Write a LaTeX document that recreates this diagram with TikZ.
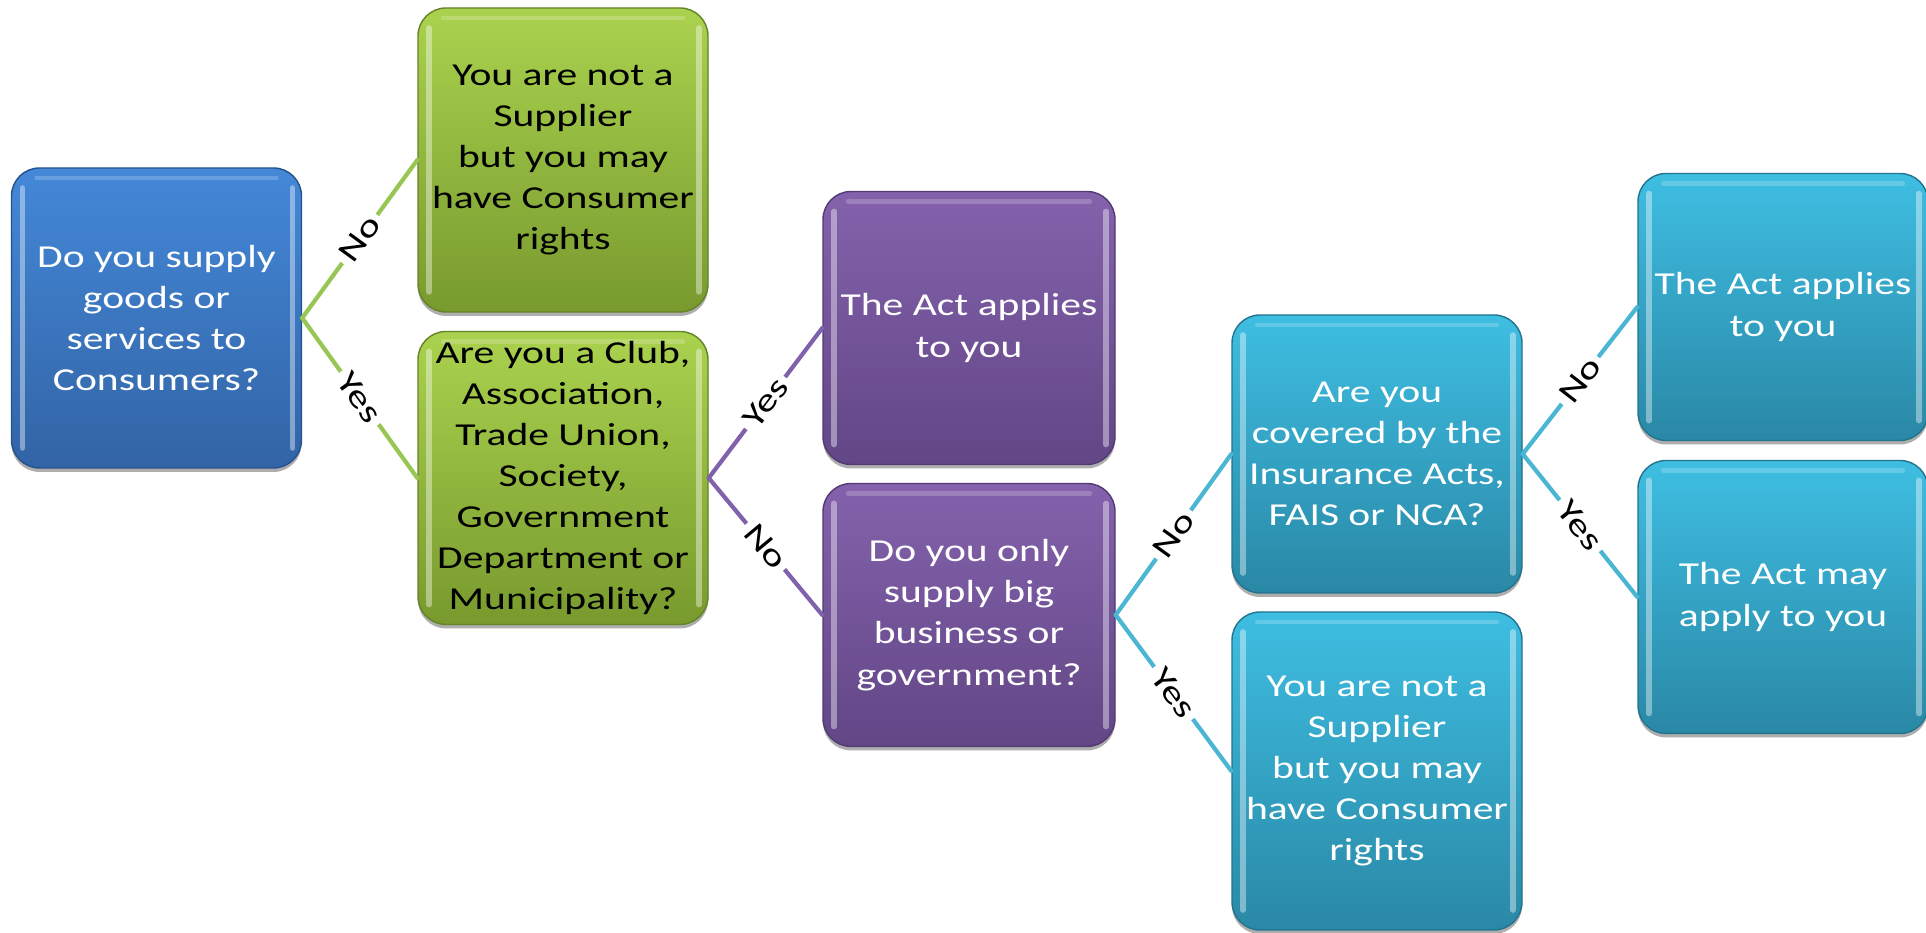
\documentclass[tikz,border=0pt]{standalone}
\usepackage{fontspec}
\setmainfont[FakeStretch=1.3]{Carlito}
\usetikzlibrary{shadows}
\definecolor{bluetop}{RGB}{68,136,216}
\definecolor{bluebot}{RGB}{50,100,166}
\definecolor{blueedge}{RGB}{38,82,140}
\definecolor{greentop}{RGB}{170,210,78}
\definecolor{greenbot}{RGB}{120,154,46}
\definecolor{greenedge}{RGB}{100,130,38}
\definecolor{greenline}{RGB}{152,198,84}
\definecolor{purptop}{RGB}{132,98,172}
\definecolor{purpbot}{RGB}{98,70,134}
\definecolor{purpedge}{RGB}{82,58,116}
\definecolor{purpline}{RGB}{128,98,172}
\definecolor{cyantop}{RGB}{62,190,226}
\definecolor{cyanbot}{RGB}{42,136,166}
\definecolor{cyanedge}{RGB}{34,116,142}
\definecolor{cyanline}{RGB}{74,182,212}
\begin{document}
\begin{tikzpicture}[font=\fontsize{9.1}{11.7}\selectfont, line join=round, line cap=round,
	box/.style={rounded corners=0.28cm, minimum width=2.9cm, align=center, inner sep=0pt,
		drop shadow={shadow xshift=0cm, shadow yshift=-0.04cm, opacity=0.45, fill=black!70},
		path picture={
			\draw[white, opacity=0.4, line width=1.6pt]
			([xshift=0.11cm,yshift=-0.2cm]path picture bounding box.north west) -- ([xshift=0.11cm,yshift=0.2cm]path picture bounding box.south west)
			([xshift=-0.09cm,yshift=-0.2cm]path picture bounding box.north east) -- ([xshift=-0.09cm,yshift=0.2cm]path picture bounding box.south east);
			\draw[white, opacity=0.2, line width=1.2pt]
			([xshift=0.25cm,yshift=-0.1cm]path picture bounding box.north west) -- ([xshift=-0.25cm,yshift=-0.1cm]path picture bounding box.north east);
		}},
	bluebox/.style={box, top color=bluetop, bottom color=bluebot, draw=blueedge, text=white},
	greenbox/.style={box, top color=greentop, bottom color=greenbot, draw=greenedge, text=black},
	purpbox/.style={box, top color=purptop, bottom color=purpbot, draw=purpedge, text=white},
	cyanbox/.style={box, top color=cyantop, bottom color=cyanbot, draw=cyanedge, text=white},
	link/.style={line width=1.2pt},
	yn/.style={midway, sloped, fill=white, inner xsep=1.5pt, inner ysep=0.5pt, text=black}]
	\useasboundingbox (0,0) rectangle (19.26,9.33);
	% cot 1
	\node[bluebox, minimum height=3cm] (supply) at (1.565,6.15) {Do you supply\\goods or\\services to\\Consumers?};
	% cot 2
	\node[greenbox, minimum height=3.04cm] (notsupA) at (5.63,7.73) {You are not a\\Supplier\\but you may\\have Consumer\\rights};
	\node[greenbox, minimum height=2.93cm] (club) at (5.63,4.55) {Are you a Club,\\Association,\\Trade Union,\\Society,\\Government\\Department or\\Municipality?};
	% cot 3
	\node[purpbox, minimum width=2.92cm, minimum height=2.73cm] (actA) at (9.69,6.05) {The Act applies\\to you};
	\node[purpbox, minimum width=2.92cm, minimum height=2.63cm] (bigbiz) at (9.69,3.18) {Do you only\\supply big\\business or\\government?};
	% cot 4
	\node[cyanbox, minimum height=2.78cm] (insure) at (13.77,4.79) {Are you\\covered by the\\Insurance Acts,\\FAIS or NCA?};
	\node[cyanbox, minimum height=3.18cm] (notsupB) at (13.77,1.62) {You are not a\\Supplier\\but you may\\have Consumer\\rights};
	% cot 5
	\node[cyanbox, minimum height=2.67cm] (actB) at (17.83,6.26) {The Act applies\\to you};
	\node[cyanbox, minimum height=2.73cm] (mayact) at (17.83,3.36) {The Act may\\apply to you};
	% duong noi
	\draw[link, greenline] (supply.east) -- (notsupA.west) node[yn] (l1) {No};
	\draw[link, greenline] (supply.east) -- (club.west) node[yn] (l2) {Yes};
	\draw[link, purpline] (club.east) -- (actA.west) node[yn] (l3) {Yes};
	\draw[link, purpline] (club.east) -- (bigbiz.west) node[yn] (l4) {No};
	\draw[link, cyanline] (bigbiz.east) -- (insure.west) node[yn] (l5) {No};
	\draw[link, cyanline] (bigbiz.east) -- (notsupB.west) node[yn] (l6) {Yes};
	\draw[link, cyanline] (insure.east) -- (actB.west) node[yn] (l7) {No};
	\draw[link, cyanline] (insure.east) -- (mayact.west) node[yn] (l8) {Yes};
\end{tikzpicture}
\end{document}
